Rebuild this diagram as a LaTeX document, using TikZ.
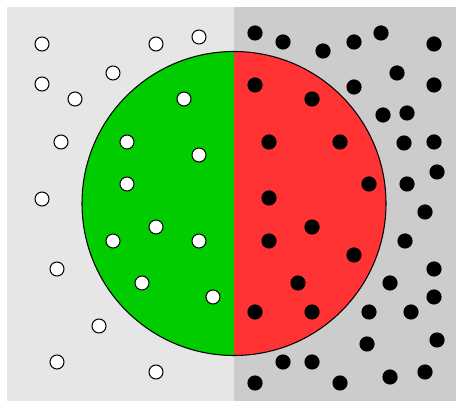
\documentclass[tikz,border=0pt]{standalone}
\usepackage{tikz}
\definecolor{lightbg}{HTML}{E6E6E6}
\definecolor{darkbg}{HTML}{CCCCCC}
\definecolor{leafgreen}{HTML}{00CC00}
\definecolor{melonred}{HTML}{FF3333}
\begin{document}
\begin{tikzpicture}[x=0.02cm,y=-0.02cm]
	\useasboundingbox (0,0) rectangle (456,401);
	% Backgrounds
	\fill[lightbg] (7,7) rectangle (234,401);
	\fill[darkbg] (234,7) rectangle (456,401);
	
	% Centre of the disc
	\coordinate (O) at (234,203.5);
	
	% Disc halves
	\fill[leafgreen] (O) ++(0,-152) arc (90:270:152 and -152) -- cycle;
	\fill[melonred] (O) ++(0,-152) arc (90:-90:152 and -152) -- cycle;
	\draw[line width=0.6pt] (O) circle (152);
	
	% White dots
	\foreach \x/\y in {42/44,156/44,199/37,113/73,42/84,75/99,184/99,
		61/142,127/142,199/155,127/184,42/199,113/241,156/227,199/241,
		57/269,142/283,213/297,99/326,57/362,156/372}
	\draw[fill=white,line width=0.6pt] (\x,\y) circle (7);
	
	% Black dots
	\foreach \x/\y in {255/33,283/42,323/51,354/42,381/33,434/44,
		255/85,312/99,354/87,397/73,434/85,383/115,407/113,
		269/142,340/142,404/143,434/142,437/172,369/184,407/184,
		269/198,425/212,312/227,269/241,405/241,354/255,434/269,
		298/283,390/283,434/297,255/312,312/312,369/312,411/312,
		367/344,437/340,283/362,312/362,255/383,340/383,390/377,425/372}
	\fill[black] (\x,\y) circle (7.6);
\end{tikzpicture}
\end{document}
